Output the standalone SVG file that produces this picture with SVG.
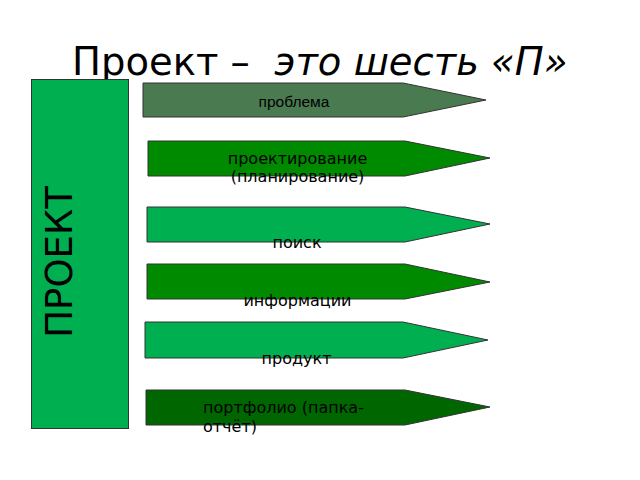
<svg xmlns="http://www.w3.org/2000/svg" width="640" height="480" viewBox="0 0 640 480">
<style>
.arr{stroke:#333;stroke-width:1}
.lbl{font-family:"DejaVu Sans",sans-serif;font-size:16px;fill:#000}
.title{font-family:"DejaVu Sans",sans-serif;font-size:38.5px;fill:#000}
</style>
<rect width="640" height="480" fill="#fff"/>
<text class="title" x="72" y="75" xml:space="preserve">Проект –  <tspan font-style="italic">это шесть «П»</tspan></text>
<g id="project">
<rect x="31.5" y="79.5" width="97" height="349" fill="#00B050" stroke="#333" stroke-width="1"/>
<text transform="translate(72,262) rotate(-90)" text-anchor="middle" style="font-family:'DejaVu Sans',sans-serif;font-size:37px;fill:#000">ПРОЕКТ</text>
</g>
<g id="n1">
<polygon class="arr" points="143,83 403,83 486,100 403,117 143,117" fill="#4A7A50"/>
<text x="294" y="107" text-anchor="middle" style="font-family:'Liberation Sans',Arial,sans-serif;font-size:15.5px">проблема</text>
</g>
<g id="n2">
<polygon class="arr" points="148,141 405,141 490,158 405,176 148,176" fill="#008A00"/>
<text class="lbl" x="297.5" y="164" text-anchor="middle">проектирование</text>
<text class="lbl" x="297.5" y="182" text-anchor="middle">(планирование)</text>
</g>
<g id="n3">
<polygon class="arr" points="147,207 405,207 490,224 405,242 147,242" fill="#00B050"/>
<text class="lbl" x="297" y="248" text-anchor="middle">поиск</text>
</g>
<g id="n4">
<polygon class="arr" points="147,264 405,264 490,282 405,299 147,299" fill="#008A00"/>
<text class="lbl" x="297.5" y="306" text-anchor="middle">информации</text>
</g>
<g id="n5">
<polygon class="arr" points="145,322 403,322 488,340 403,358 145,358" fill="#00B050"/>
<text class="lbl" x="296.5" y="364" text-anchor="middle">продукт</text>
</g>
<g id="n6">
<polygon class="arr" points="146,390 405,390 490,407 405,425 146,425" fill="#006600"/>
<text class="lbl" x="203" y="413">портфолио (папка-</text>
<text class="lbl" x="203" y="432">отчёт)</text>
</g>
<g id="connectors"></g>
</svg>
